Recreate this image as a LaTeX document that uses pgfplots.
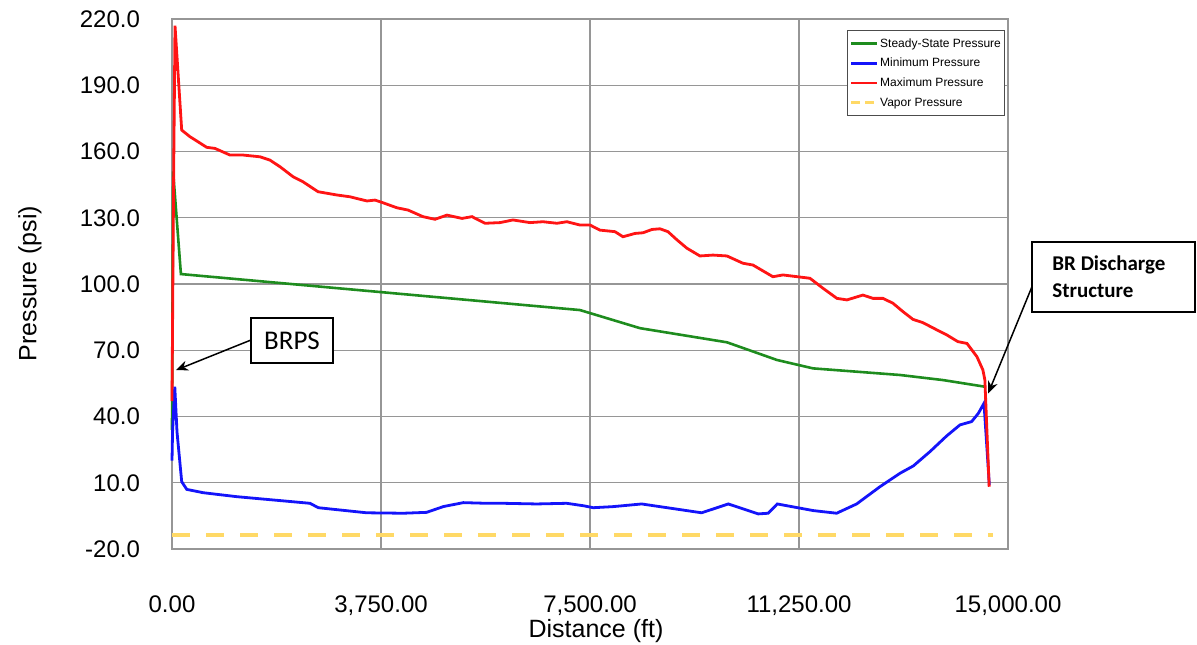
\documentclass[border=0pt]{standalone}
\usepackage{fontspec}
\setmainfont{Liberation Sans}
\newfontfamily\carlito{Carlito}
\usepackage{pgfplots}
\pgfplotsset{compat=1.18}
\usetikzlibrary{arrows.meta}
\definecolor{ssgreen}{RGB}{30,140,30}
\definecolor{minblue}{RGB}{20,20,250}
\definecolor{maxred}{RGB}{255,20,20}
\definecolor{vapor}{RGB}{255,217,102}
\definecolor{gridgray}{RGB}{150,150,150}
\begin{document}
\begin{tikzpicture}
\begin{axis}[
  scale only axis, width=418pt, height=265pt,
  xmin=0, xmax=15000, ymin=-20, ymax=220,
  xtick={0,3750,7500,11250,15000},
  ytick={-20,10,40,70,100,130,160,190,220},
  grid=major,
  major grid style={draw=gridgray, line width=0.7pt},
  axis line style={draw=gridgray, line width=0.7pt},
  tick style={draw=none},
  /pgf/number format/assume math mode=true,
  xticklabel={\pgfmathprintnumber[fixed,fixed zerofill,precision=2,1000 sep={,}]{\tick}},
  yticklabel={\pgfmathprintnumber[fixed,fixed zerofill,precision=1,1000 sep={}]{\tick}},
  tick label style={font=\fontsize{12}{14}\selectfont},
  xticklabel style={yshift=-20pt},
  yticklabel style={xshift=-12.5pt},
  scaled x ticks=false, scaled y ticks=false,
  clip=false,
  legend cell align=left,
  legend style={at={(rel axis cs:0.9964,0.979)}, anchor=north east,
    draw=black!70, line width=0.5pt,
    font=\fontsize{6}{7}\selectfont,
    inner xsep=1pt, inner ysep=2.5pt,
    row sep=1.7pt,
    nodes={inner sep=0.8pt, text height=5pt, text depth=1.5pt}},
  legend image code/.code={\draw[#1] (0pt,0pt) -- (13pt,0pt);},
]
\addplot[ssgreen, line width=1.3pt] coordinates {
(0,34) (20,151) (160,104.5) (7320,88.2) (8397,80) (9957,73.6) (10854,65.6)
(11500,61.8) (13062,58.8) (13833,56.5) (14585,53.5)};
\addlegendentry{Steady-State Pressure}
\addplot[minblue, line width=1.4pt] coordinates {
(0,20) (10,33) (50,53.5) (90,33) (174,10.5) (265,7) (558,5.5) (1161,3.7)
(2476,0.7) (2625,-1.3) (3493,-3.6) (4150,-3.8) (4568,-3.4) (4867,-0.8)
(5226,1.0) (5645,0.7) (5944,0.7) (6543,0.4) (7081,0.7) (7380,-0.4)
(7559,-1.3) (7918,-0.8) (8427,0.4) (9503,-3.6) (9981,0.4) (10519,-4.1)
(10698,-3.8) (10860,0.4) (11506,-2.6) (11925,-3.8) (12284,0.4) (12702,8.2)
(13062,14.3) (13300,17.6) (13600,24.1) (13899,31.2) (14138,36.2)
(14347,37.7) (14467,41.4) (14569,46) (14665,9)};
\addlegendentry{Minimum Pressure}
\addplot[maxred, line width=1.4pt] coordinates {
(0,47) (30,150) (54,217) (174,169.7) (323,166.7) (467,164.4) (622,161.9)
(771,161.4) (1040,158.4) (1274,158.4) (1579,157.6) (1758,156.1) (1938,153.1)
(2171,148.6) (2350,146.3) (2619,141.8) (2960,140.3) (3193,139.5) (3498,137.6)
(3642,138) (3785,136.8) (4037,134.5) (4234,133.5) (4503,130.5) (4718,129.3)
(4934,131.2) (5203,129.7) (5382,130.5) (5615,127.5) (5884,127.8) (6118,129)
(6423,127.8) (6656,128.2) (6907,127.5) (7086,128.2) (7320,126.7) (7500,126.7)
(7679,124.4) (7948,123.7) (8092,121.4) (8307,122.9) (8451,123.2) (8612,124.7)
(8755,125) (8899,123.7) (9060,120) (9239,116.2) (9473,112.7) (9706,113.1)
(9957,112.7) (10244,109.4) (10423,108.6) (10782,103.3) (10962,104.1)
(11446,102.6) (11679,98.1) (11930,93.5) (12110,92.8) (12397,95) (12577,93.5)
(12756,93.5) (12935,91.3) (13115,87.5) (13294,84) (13473,82.5) (13725,79.2)
(13904,76.9) (14101,73.9) (14263,73.1) (14442,67.1) (14549,61.1) (14585,56.5)
(14662,8.2)};
\addlegendentry{Maximum Pressure}
\addplot[vapor, line width=2pt, dash pattern=on 9pt off 8pt,
  legend image code/.code={\draw[vapor, line width=1.5pt, dash pattern=on 4.5pt off 2.5pt] (0pt,0pt) -- (13pt,0pt);}]
  coordinates {(0,-13.6) (14730,-13.6)};
\addlegendentry{Vapor Pressure}
\coordinate (brpstip) at (axis cs:72,61);
\coordinate (brtip) at (axis cs:14645,50.5);
\end{axis}
% annotations
\draw[line width=0.75pt, fill=white] (39.5pt,93pt) rectangle (80.5pt,115.5pt);
\node[font=\carlito\fontsize{13.5}{16}\selectfont] at (60pt,104.25pt) {BRPS};
\draw[-{Stealth[length=6pt,width=5pt]}, line width=0.75pt] (39.5pt,104.5pt) -- (brpstip);
\draw[line width=0.75pt] (430pt,118.5pt) rectangle (511.5pt,153.5pt);
\node[anchor=west, inner sep=0pt, align=left, font=\carlito\bfseries\fontsize{10.5}{13.5}\selectfont] at (440pt,136pt) {BR Discharge\\Structure};
\draw[-{Stealth[length=6pt,width=5pt]}, line width=0.75pt] (430pt,131.2pt) -- (brtip);
% axis labels
\node[rotate=90, inner sep=0pt, font=\fontsize{12.5}{15}\selectfont] at (-71pt,132.75pt) {Pressure (psi)};
\node[inner sep=0pt, font=\fontsize{12.5}{15}\selectfont] at (212pt,-41pt) {Distance (ft)};
\pgfresetboundingbox
\useasboundingbox (-86pt,-47.5pt) rectangle (512.5pt,274.5pt);
\end{tikzpicture}
\end{document}
